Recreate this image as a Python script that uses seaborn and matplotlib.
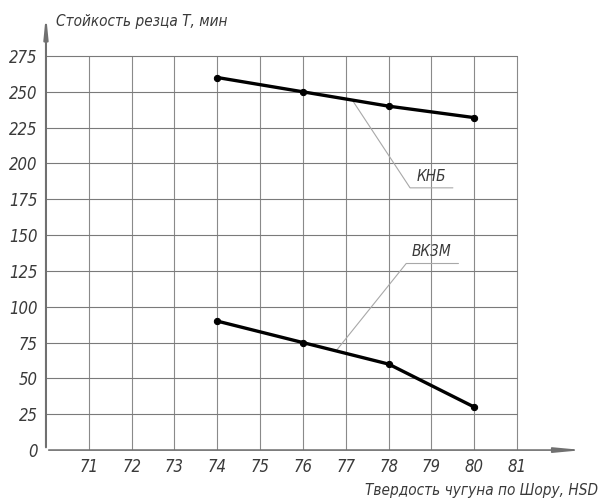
import pandas as pd
import matplotlib
matplotlib.use('Agg')
import matplotlib.pyplot as plt
import seaborn as sns

# data
hardness = [74, 76, 78, 80]
knb = [260, 250, 240, 232]
vk3m = [90, 75, 60, 30]
x_ticks = [71, 72, 73, 74, 75, 76, 77, 78, 79, 80, 81]
y_ticks = [0, 25, 50, 75, 100, 125, 150, 175, 200, 225, 250, 275]

df = pd.DataFrame({
    'hsd': hardness * 2,
    'T': knb + vk3m,
    'material': ['КНБ'] * 4 + ['ВК3М'] * 4,
})

sns.set_style('white')
plt.rcParams['font.family'] = ['DejaVu Sans']
font = dict(family='DejaVu Sans', style='italic', stretch='condensed', color='#3a3a3a')

fig = plt.figure(figsize=(6.01, 5.04), dpi=100)
ax = fig.add_axes([0.0765, 0.107, 0.898, 0.87])

# grid
for x in x_ticks:
    ax.plot([x, x], [0, 275], color='#8a8a8a', lw=0.8, zorder=1)
for y in y_ticks[1:]:
    ax.plot([70, 81], [y, y], color='#7a7a7a', lw=0.8, zorder=1)

sns.lineplot(data=df, x='hsd', y='T', hue='material', units='material', estimator=None,
             palette=['black', 'black'], lw=2.4, marker='o', markersize=4.5,
             markeredgecolor='black', legend=False, ax=ax, zorder=3)

# leaders
ax.plot([77.15, 78.5, 79.5], [244.3, 183, 183], color='#a8a8a8', lw=0.8, zorder=2)
ax.text(79.0, 186, 'КНБ', ha='center', va='bottom', fontsize=11, **font)
ax.plot([76.78, 78.41, 79.63], [69.5, 130.2, 130.2], color='#a8a8a8', lw=0.8, zorder=2)
ax.text(79.0, 133, 'ВК3М', ha='center', va='bottom', fontsize=11, **font)

ax.set_xlim(70, 82.6)
ax.set_ylim(0, 306)
for s in ax.spines.values():
    s.set_visible(False)

# axes with arrows
ax.annotate('', xy=(82.6, 0), xytext=(70, 0),
            arrowprops=dict(arrowstyle='-|>,head_length=1.6,head_width=0.15', color='#707070', lw=1.2),
            annotation_clip=False)
ax.annotate('', xy=(70, 306), xytext=(70, 0),
            arrowprops=dict(arrowstyle='-|>,head_length=1.2,head_width=0.12', color='#707070', lw=1.5),
            annotation_clip=False)

ax.set_xticks(x_ticks)
ax.set_yticks(y_ticks)
ax.set_xticklabels([str(v) for v in x_ticks], fontsize=12, **font)
ax.set_yticklabels([str(v) for v in y_ticks], fontsize=12, **font)
ax.tick_params(length=0, pad=6)
ax.set_xlabel('')
ax.set_ylabel('')

fig.text(0.093, 0.958, 'Стойкость резца Т, мин', ha='left', va='center', fontsize=11, **font)
fig.text(0.995, 0.027, 'Твердость чугуна по Шору, HSD', ha='right', va='center', fontsize=11, **font)

fig.savefig('out.png', dpi=100)
